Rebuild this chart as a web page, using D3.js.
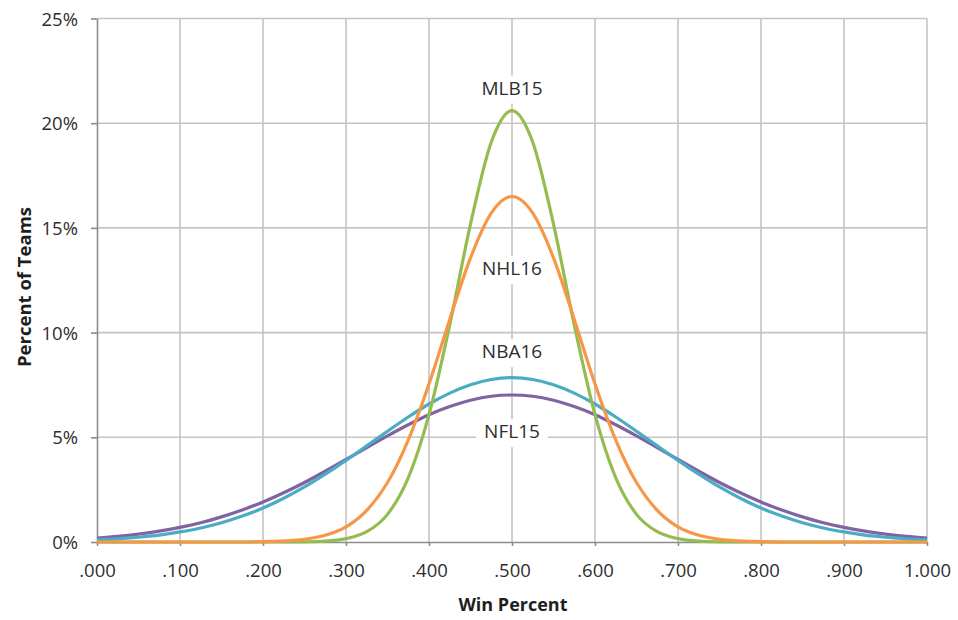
<!DOCTYPE html>
<html><head><meta charset="utf-8">
<script src="https://cdn.jsdelivr.net/npm/d3@7"></script>
<style>body{margin:0;background:#fff}svg{display:block}</style>
</head><body><svg id="c" width="958" height="620"></svg>
<script>
// ---- data ----
const winPct = [0,0.025,0.05,0.075,0.1,0.125,0.15,0.175,0.2,0.225,0.25,0.275,0.3,0.325,0.35,0.375,0.4,0.425,0.45,0.475,0.5,
  0.525,0.55,0.575,0.6,0.625,0.65,0.675,0.7,0.725,0.75,0.775,0.8,0.825,0.85,0.875,0.9,0.925,0.95,0.975,1];
const nfl15 = [0.19,0.27,0.38,0.52,0.70,0.92,1.20,1.53,1.91,2.35,2.84,3.38,3.94,4.51,5.07,5.60,6.08,6.47,6.77,6.96,7.02,
  6.96,6.77,6.47,6.08,5.60,5.07,4.51,3.94,3.38,2.84,2.35,1.91,1.53,1.20,0.92,0.70,0.52,0.38,0.27,0.19];
const nba16 = [0.10,0.15,0.23,0.33,0.48,0.67,0.92,1.24,1.62,2.09,2.63,3.24,3.90,4.59,5.29,5.97,6.59,7.11,7.51,7.76,7.85,
  7.76,7.51,7.11,6.59,5.97,5.29,4.59,3.90,3.24,2.63,2.09,1.62,1.24,0.92,0.67,0.48,0.33,0.23,0.15,0.10];
const nhl16 = [0,0,0,0,0,0,0,0,0.02,0.05,0.13,0.32,0.72,1.51,2.84,4.87,7.55,10.63,13.57,15.71,16.5,
  15.71,13.57,10.63,7.55,4.87,2.84,1.51,0.72,0.32,0.13,0.05,0.02,0,0,0,0,0,0,0,0];
const mlb15 = [0,0,0,0,0,0,0,0,0,0,0.01,0.04,0.16,0.49,1.32,3.06,6.08,10.37,15.18,19.09,20.6,
  19.09,15.18,10.37,6.08,3.06,1.32,0.49,0.16,0.04,0.01,0,0,0,0,0,0,0,0,0,0];
const seriesNames = ["NFL15","NBA16","MLB15","NHL16"];
const seriesValues = [nfl15, nba16, mlb15, nhl16];
const xTickValues = [0,0.1,0.2,0.3,0.4,0.5,0.6,0.7,0.8,0.9,1];
const xTickLabels = [".000",".100",".200",".300",".400",".500",".600",".700",".800",".900","1.000"];
const yTickValues = [0,5,10,15,20,25];
const yTickLabels = ["0%","5%","10%","15%","20%","25%"];
const xTitle = "Win Percent";
const yTitle = "Percent of Teams";

// ---- styles / layout ----
const colors = {NFL15:"#8064A2", NBA16:"#4BACC6", NHL16:"#F79646", MLB15:"#94BC50"};
const labelPos = {MLB15:21.37, NHL16:12.74, NBA16:8.78, NFL15:4.96};
const font = "'Open Sans', sans-serif";

const svg = d3.select("#c");
svg.append("rect").attr("width",958).attr("height",620).attr("fill","#fff");
const x = d3.scaleLinear().domain([0,1]).range([97,927]);
const y = d3.scaleLinear().domain([0,25]).range([542,18.5]);

// gridlines
const grid = svg.append("g");
grid.selectAll("line.v").data(xTickValues.slice(1)).join("line")
  .attr("x1",d=>x(d)).attr("x2",d=>x(d)).attr("y1",y(0)).attr("y2",y(25))
  .attr("stroke","#c4c4c4").attr("stroke-width",1.6);
grid.selectAll("line.h").data(yTickValues.slice(1)).join("line")
  .attr("x1",x(0)).attr("x2",x(1)).attr("y1",d=>y(d)).attr("y2",d=>y(d))
  .attr("stroke","#c4c4c4").attr("stroke-width",1.6);

// axes
const xAxis = svg.append("g").attr("transform",`translate(0,${y(0)})`)
  .call(d3.axisBottom(x).tickValues(xTickValues).tickFormat((d,i)=>xTickLabels[i]).tickSizeInner(4).tickSizeOuter(0));
const yAxis = svg.append("g").attr("transform",`translate(${x(0)},0)`)
  .call(d3.axisLeft(y).tickValues(yTickValues).tickFormat((d,i)=>yTickLabels[i]).tickSizeInner(6).tickSizeOuter(0));
[xAxis,yAxis].forEach(g=>{
  g.select(".domain").attr("stroke","#8c8c8c").attr("stroke-width",1.6);
  g.selectAll(".tick line").attr("stroke","#8c8c8c").attr("stroke-width",1.6);
  g.selectAll(".tick text").attr("fill","#2e2e2e").style("font-family",font).style("font-size","18.5px");
});
xAxis.selectAll(".tick text").attr("y",35).attr("dy",0);
yAxis.selectAll(".tick text").attr("x",-19).attr("dy","0.36em");

// axis titles
svg.append("text").attr("x",513).attr("y",610.5).attr("text-anchor","middle")
  .style("font-family",font).style("font-size","18px").style("font-weight","700").attr("fill","#1e1e1e").text(xTitle);
svg.append("text").attr("transform","translate(31,287) rotate(-90)").attr("text-anchor","middle")
  .style("font-family",font).style("font-size","18.5px").style("font-weight","700").attr("fill","#1e1e1e").text(yTitle);

// labels with white background
const lab = svg.append("g");
seriesNames.forEach(n=>{
  const g = lab.append("g");
  const t = g.append("text").attr("x",x(0.5)).attr("y",y(labelPos[n])).attr("text-anchor","middle")
    .style("font-family",font).style("font-size","19px").attr("fill","#2e2e2e").text(n);
  const b = t.node().getBBox();
  g.insert("rect","text").attr("x",b.x-8).attr("y",b.y+1).attr("width",b.width+16).attr("height",b.height+2).attr("fill","#fff");
});

// curves
const line = d3.line().x((d,i)=>x(winPct[i])).y(d=>y(d)).curve(d3.curveMonotoneX);
svg.append("g").selectAll("path").data(seriesValues).join("path")
  .attr("d",d=>line(d)).attr("fill","none")
  .attr("stroke",(d,i)=>colors[seriesNames[i]]).attr("stroke-width",3.2).attr("stroke-linejoin","round");
</script></body></html>
